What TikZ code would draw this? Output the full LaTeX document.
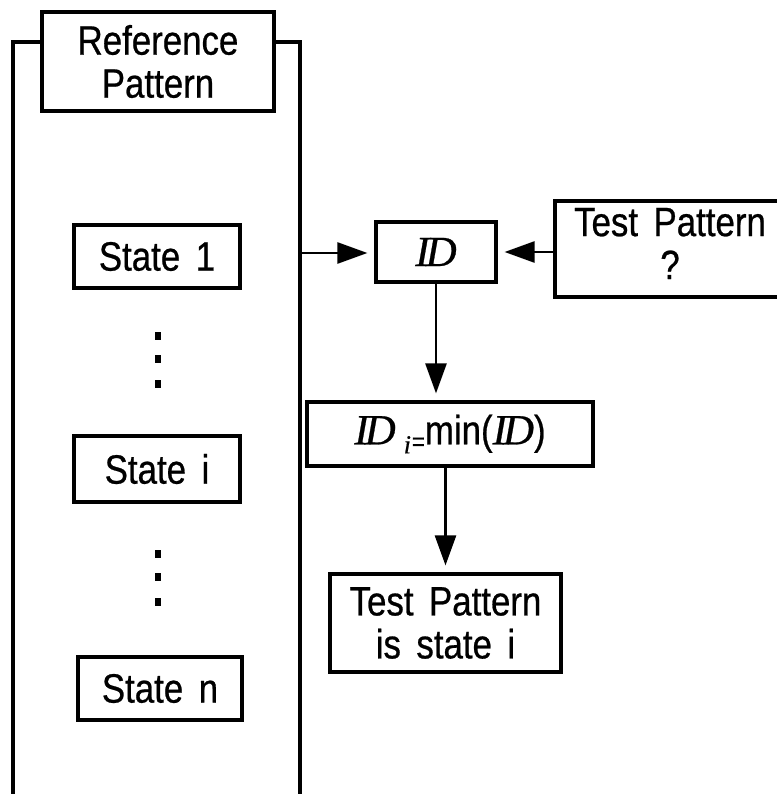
\documentclass[tikz,border=0pt]{standalone}
\usepackage{fontspec}
\setmainfont{Liberation Sans}[FakeStretch=0.85,WordSpace=1.6,FakeBold=0.6]
\newfontfamily\idserif{Liberation Serif}[FakeBold=0.6]
\usetikzlibrary{arrows.meta}
\newcommand\IDsym{{\fontsize{43}{44}\selectfont\idserif\itshape I\kern-4pt D}}
\begin{document}
\begin{tikzpicture}[x=1pt,y=-1pt,
  box/.style={draw,line width=3.2pt,inner sep=0pt,align=center,
    font=\fontsize{41}{43}\selectfont},
  frameline/.style={line width=3.2pt},
  conn/.style={line width=2.6pt,-{Triangle[length=30pt,width=21pt]},shorten >=7pt},
  dotmark/.style={fill=black}]
\useasboundingbox (0,0) rectangle (776,794);
% reference pattern frame
\node[box,minimum width=232,minimum height=99] (title) at (158,61.5) {Reference\\Pattern};
\draw[frameline] (title.west |- 0,42) -- (13,42) -- (13,800);
\draw[frameline] (title.east |- 0,42) -- (300,42) -- (300,800);
\coordinate (fr) at (300,253);
% states
\node[box,minimum width=166,minimum height=63] (s1) at (157,256.5) {State 1};
\node[box,minimum width=166,minimum height=66] (si) at (157,469) {State i};
\node[box,minimum width=164,minimum height=63] (sn) at (160,688.5) {State n};
% dots
\foreach \y in {336,359,384,554,577,602}
  \fill[dotmark] (155,\y-4) rectangle (161,\y+4);
% ID and test pattern
\node[box,minimum width=120,minimum height=60] (ID) at (436,252) {\IDsym};
\node[box,minimum width=230,minimum height=96] (tp) at (670,249)
  {\raisebox{-7pt}{\begin{tabular}{@{}c@{}}Test Pattern\\?\end{tabular}}};
\node[box,minimum width=286,minimum height=64] (IDmin) at (450,434)
  {\IDsym\kern8pt\raisebox{-9pt}{\fontsize{26}{26}\selectfont{\idserif\itshape i}\kern1pt\raisebox{3pt}{=}}min(\IDsym)};
\node[box,minimum width=231,minimum height=98] (final) at (445.5,623)
  {Test Pattern\\is state i};
% connectors
\draw[conn] (fr) -- (fr -| ID.west);
\draw[conn] (tp.west |- ID.center) -- (ID.east);
\draw[conn] (ID.south) -- (ID.south |- IDmin.north);
\draw[conn] (final.north |- IDmin.south) -- (final.north);
\end{tikzpicture}
\end{document}
